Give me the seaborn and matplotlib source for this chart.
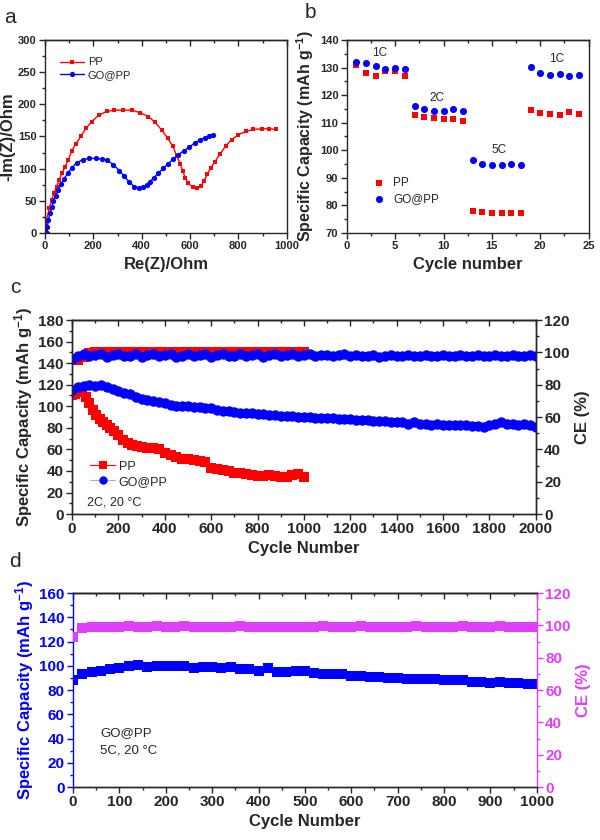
import matplotlib
matplotlib.use("Agg")
import matplotlib.pyplot as plt
import seaborn as sns
from matplotlib.ticker import MultipleLocator

# ---------------- panel a: Nyquist plots ----------------
eis_pp_re = [4, 7, 18, 28, 37, 48, 59, 70, 83, 97, 110, 128, 148, 170, 193, 222, 255, 287, 321, 359,
             393, 428, 455, 483, 508, 528, 545, 559, 570, 581, 593, 611, 628, 644, 658, 671, 685, 703,
             724, 749, 772, 800, 832, 862, 897, 928, 956]
eis_pp_im = [5, 21, 39, 52, 62, 72, 83, 93, 103, 114, 127, 139, 150, 163, 173, 183, 189, 191, 191, 191,
             187, 181, 172, 160, 147, 135, 120, 108, 96, 85, 77, 71, 70, 73, 81, 91, 101, 111,
             123, 136, 145, 153, 158, 161, 162, 162, 161]
eis_go_re = [7, 10, 14, 21, 28, 34, 44, 55, 66, 79, 94, 110, 131, 156, 183, 211, 234, 258, 283, 308,
             328, 349, 370, 390, 407, 421, 434, 451, 469, 490, 510, 531, 552, 576, 597, 621, 641, 662, 680, 694]
eis_go_im = [0, 10, 21, 31, 40, 49, 58, 67, 76, 84, 93, 101, 109, 114, 116, 116, 115, 113, 106, 97,
             88, 79, 72, 70, 71, 75, 80, 86, 93, 101, 108, 115, 122, 128, 134, 140, 145, 148, 151, 152]

# ---------------- panel b: rate capability ----------------
rate_cycle = list(range(1, 25))
rate_pp = [130.8, 128.1, 127.1, 128.8, 128.8, 127.1, 112.7, 111.9, 111.6, 111.5, 111.4, 110.6,
           78.1, 77.6, 77.4, 77.4, 77.2, 77.2, 114.5, 113.7, 113.3, 112.7, 113.9, 113.3]
rate_go = [131.9, 131.5, 130.5, 129.6, 130.0, 129.6, 116.2, 115.0, 114.3, 114.3, 114.8, 114.3,
           96.4, 95.0, 94.6, 94.6, 95.0, 94.7, 130.2, 128.2, 127.4, 127.8, 126.8, 127.3]
rate_names = ["1C", "2C", "5C", "1C"]

# ---------------- panel c: 2C long cycling ----------------
c_cycle_pp = [1, 15, 30, 45, 60, 75, 90, 105, 120, 135, 150, 165, 180, 200, 220, 240, 260, 280, 300,
              325, 350, 375, 400, 425, 450, 475, 500, 525, 550, 575, 600, 625, 650, 675, 700, 725,
              750, 775, 800, 825, 850, 875, 900, 925, 950, 975, 1000]
c_cap_pp = [110, 111, 113, 114, 109, 103, 97, 92, 88, 85, 83, 80, 77, 73, 69, 66, 64, 63, 62,
            61, 61, 60, 57, 55, 53, 51, 51, 50, 49, 48, 43, 42, 41, 40, 38, 38,
            37, 36, 35, 35, 36, 35, 34, 34, 36, 37, 34]
c_cycle_ce_pp = [1] + list(range(25, 1001, 25))
c_ce_pp = [96, 95, 97, 99.5, 100, 100.5, 100, 100.5, 100, 100.5, 100, 100.5, 100.5, 100, 100.5,
           100.5, 100, 100.5, 100.5, 100, 100.5, 100.5, 100, 100.5, 100.5, 100.5, 100, 100.5,
           100.5, 100.5, 100.5, 100, 100.5, 100.5, 100.5, 100.5, 100.5, 100, 100.5, 100.5, 100.5]
c_cycle_go = [1] + list(range(25, 2001, 25))
c_cap_go = [115, 118, 119, 120, 119, 120, 118, 116, 114, 112, 111, 109, 107, 106, 105, 104, 103,
            101, 100, 100, 100, 99, 99, 98, 98, 97, 96, 96, 95, 94, 94, 94, 93, 93, 92, 92, 91,
            91, 91, 90, 90, 90, 89, 89, 89, 89, 88, 88, 88, 87, 87, 87, 86, 86, 86, 85, 85, 85,
            84, 85, 84, 84, 83, 84, 83, 83, 83, 83, 83, 82, 82, 81, 83, 84, 85, 84, 84, 83, 84, 83, 81]
c_ce_go = [96, 98, 99, 97.5, 98.5, 99, 97, 98.5, 99, 97.5,
           98, 99, 97, 98.5, 99, 97.5, 98.5, 99, 97, 98,
           99, 97.5, 98.5, 99, 97, 98.5, 99, 97.5, 98, 99,
           97.5, 98.5, 99, 97, 98.5, 99, 97.5, 98.5, 99, 97.5,
           98.5, 99, 97.5, 98.5, 98.5, 97.5, 98.5, 99, 98, 98.5,
           98, 98, 98.5, 97, 98, 98.5, 98, 98, 98.5, 98,
           98, 98.5, 98, 98, 98.5, 98, 98, 98.5, 98, 98,
           98.5, 98, 98, 98.5, 98, 98, 98.5, 98, 98, 98.5, 98]

# ---------------- panel d: 5C cycling of GO@PP ----------------
d_cycle = [1] + list(range(20, 1001, 20))
d_cap = [88, 93, 95, 96, 97, 98, 100, 101, 99, 100, 100, 100, 100, 98, 99, 99, 98, 99, 97, 97,
         96, 98, 95, 95, 96, 96, 94, 93, 93, 93, 92, 92, 91, 91, 90, 90, 89, 89, 89, 89,
         88, 88, 88, 87, 87, 86, 87, 86, 86, 85, 85]
d_ce = [93, 98.5, 99, 99, 99, 99, 99.5, 99, 99, 99.5, 99, 99, 99.5, 99, 99, 99, 99, 99, 99.5, 99,
        99, 99, 99, 99, 99, 99, 99, 99.5, 99, 99, 99, 99.5, 99, 99, 99, 99, 99, 99.5, 99, 99,
        99, 99, 99.5, 99, 99, 99, 99.5, 99, 99, 99, 99]

RED = "#ff0000"
BLUE = "#0000ff"
MAGENTA = "#e040fb"

sns.set_theme(style="ticks")
plt.rcParams["font.family"] = ["Liberation Sans", "DejaVu Sans"]
plt.rcParams.update({
    "font.weight": "bold",
    "axes.labelweight": "bold",
    "mathtext.default": "regular",
    "axes.linewidth": 1.0,
    "xtick.major.width": 1.0, "ytick.major.width": 1.0,
    "xtick.minor.width": 1.0, "ytick.minor.width": 1.0,
    "xtick.direction": "out", "ytick.direction": "out",
})
NORMAL = {"weight": "normal"}


def set_ticks(ax, xmaj, xmin, ymaj, ymin, size):
    ax.xaxis.set_major_locator(MultipleLocator(xmaj))
    ax.xaxis.set_minor_locator(MultipleLocator(xmin))
    ax.yaxis.set_major_locator(MultipleLocator(ymaj))
    ax.yaxis.set_minor_locator(MultipleLocator(ymin))
    ax.tick_params(which="both", labelsize=size, pad=2)
    ax.tick_params(which="major", length=4)
    ax.tick_params(which="minor", length=2.5)
    # mirrored ticks on top, pointing in
    top = ax.secondary_xaxis("top")
    top.xaxis.set_major_locator(MultipleLocator(xmaj))
    top.xaxis.set_minor_locator(MultipleLocator(xmin))
    top.tick_params(which="both", direction="in", labeltop=False)
    top.tick_params(which="major", length=4)
    top.tick_params(which="minor", length=2.5)


fig = plt.figure(figsize=(6, 8.4), dpi=100)

# ---- a ----
ax = fig.add_axes([0.075, 0.7226, 0.403, 0.2298])
sns.lineplot(x=eis_pp_re, y=eis_pp_im, ax=ax, color=RED, marker="s", markersize=3.5,
             markeredgewidth=0, linewidth=1, sort=False, estimator=None, label="PP")
sns.lineplot(x=eis_go_re, y=eis_go_im, ax=ax, color=BLUE, marker="o", markersize=3.8,
             markeredgewidth=0, linewidth=1, sort=False, estimator=None, label="GO@PP")
ax.set_xlim(0, 1000)
ax.set_ylim(0, 300)
set_ticks(ax, 200, 100, 50, 25, 8)
ax.set_xlabel("Re(Z)/Ohm", fontsize=12)
ax.set_ylabel("-Im(Z)/Ohm", fontsize=12, labelpad=2)
ax.legend(loc="upper left", bbox_to_anchor=(0.03, 0.95), frameon=False, prop={"weight": "normal", "size": 8},
          handlelength=2.2, handletextpad=0.3, labelspacing=0.25, borderpad=0.2)

# ---- b ----
ax = fig.add_axes([0.578, 0.7226, 0.403, 0.2298])
sns.scatterplot(x=rate_cycle, y=rate_pp, ax=ax, color=RED, marker="s", s=22, linewidth=0, label="PP")
sns.scatterplot(x=rate_cycle, y=rate_go, ax=ax, color=BLUE, marker="o", s=26, linewidth=0, label="GO@PP")
ax.set_xlim(0, 25)
ax.set_ylim(70, 140)
set_ticks(ax, 5, 2.5, 10, 5, 8)
ax.set_xlabel("Cycle number", fontsize=12)
ax.set_ylabel("Specific Capacity (mAh g$^{-1}$)", fontsize=11.5, labelpad=3)
for name, tx, ty in zip(rate_names, [3.4, 9.3, 15.7, 21.7], [135.2, 119.1, 100.2, 133.1]):
    ax.text(tx, ty, name, fontsize=8.5, ha="center", va="center", fontdict=NORMAL)
ax.legend(loc="lower left", bbox_to_anchor=(0.05, 0.1), frameon=False, prop={"weight": "normal", "size": 8.5},
          handletextpad=0.2, labelspacing=0.35, borderpad=0.2)

# ---- c ----
ax = fig.add_axes([0.12, 0.388, 0.773, 0.231])
ax2 = ax.twinx()
sns.lineplot(x=c_cycle_pp, y=c_cap_pp, ax=ax, color=RED, marker="s", markersize=7,
             markeredgewidth=0, linewidth=0.8, sort=False, estimator=None, label="PP")
sns.lineplot(x=c_cycle_go, y=c_cap_go, ax=ax, color="#a8a8ff", marker="o", markersize=7.5,
             markerfacecolor=BLUE, markeredgewidth=0, linewidth=0.8, sort=False, estimator=None,
             label="GO@PP")
sns.lineplot(x=c_cycle_ce_pp, y=c_ce_pp, ax=ax2, color=RED, marker="s", markersize=7,
             markeredgewidth=0, linewidth=0.8, sort=False, estimator=None, legend=False)
sns.lineplot(x=c_cycle_go, y=c_ce_go, ax=ax2, color="#a8a8ff", marker="o", markersize=7.5,
             markerfacecolor=BLUE, markeredgewidth=0, linewidth=0.8, sort=False, estimator=None,
             legend=False)
ax.set_xlim(0, 2000)
ax.set_ylim(0, 180)
ax2.set_ylim(0, 120)
set_ticks(ax, 200, 100, 20, 10, 11)
ax2.yaxis.set_major_locator(MultipleLocator(20))
ax2.yaxis.set_minor_locator(MultipleLocator(10))
ax2.tick_params(which="both", labelsize=11, pad=2)
ax2.tick_params(which="major", length=4)
ax2.tick_params(which="minor", length=2.5)
ax.set_xlabel("Cycle Number", fontsize=12, labelpad=3)
ax.set_ylabel("Specific Capacity (mAh g$^{-1}$)", fontsize=12, labelpad=2)
ax2.set_ylabel("CE (%)", fontsize=12, labelpad=4)
ax.legend(loc="lower left", bbox_to_anchor=(0.02, 0.09), frameon=False, prop={"weight": "normal", "size": 9},
          handlelength=2.0, handletextpad=0.3, labelspacing=0.25, borderpad=0.2, markerscale=0.8)
ax.text(0.032, 0.062, "2C, 20 °C", transform=ax.transAxes, fontsize=9, va="center", fontdict=NORMAL)

# ---- d ----
ax = fig.add_axes([0.1217, 0.063, 0.773, 0.231])
ax2 = ax.twinx()
sns.lineplot(x=d_cycle, y=d_cap, ax=ax, color=BLUE, marker="s", markersize=7.5,
             markeredgewidth=0, linewidth=0.8, sort=False, estimator=None, legend=False)
sns.lineplot(x=d_cycle, y=d_ce, ax=ax2, color=MAGENTA, marker="s", markersize=7.5,
             markeredgewidth=0, linewidth=0.8, sort=False, estimator=None, legend=False)
ax.set_xlim(0, 1000)
ax.set_ylim(0, 160)
ax2.set_ylim(0, 120)
set_ticks(ax, 100, 50, 20, 10, 11)
ax2.yaxis.set_major_locator(MultipleLocator(20))
ax2.yaxis.set_minor_locator(MultipleLocator(10))
ax2.tick_params(which="both", labelsize=11, pad=2, colors=MAGENTA)
ax2.tick_params(which="major", length=4)
ax2.tick_params(which="minor", length=2.5)
ax.tick_params(axis="y", which="both", colors=BLUE)
ax.spines["left"].set_color(BLUE)
ax2.spines["left"].set_visible(False)
ax.spines["right"].set_visible(False)
ax2.spines["right"].set_color(MAGENTA)
ax.set_xlabel("Cycle Number", fontsize=12, labelpad=3)
ax.set_ylabel("Specific Capacity (mAh g$^{-1}$)", fontsize=12, labelpad=2, color=BLUE)
ax2.set_ylabel("CE (%)", fontsize=12, labelpad=4, color=MAGENTA)
ax.text(0.058, 0.28, "GO@PP", transform=ax.transAxes, fontsize=9.5, va="center", fontdict=NORMAL)
ax.text(0.058, 0.19, "5C, 20 °C", transform=ax.transAxes, fontsize=9.5, va="center", fontdict=NORMAL)

# panel letters
for letter, lx, ly in [("a", 0.017, 0.979), ("b", 0.517, 0.985), ("c", 0.025, 0.658), ("d", 0.025, 0.331)]:
    fig.text(lx, ly, letter, fontsize=15, va="center", ha="center", fontdict=NORMAL)

fig.savefig("out.png", dpi=100)
